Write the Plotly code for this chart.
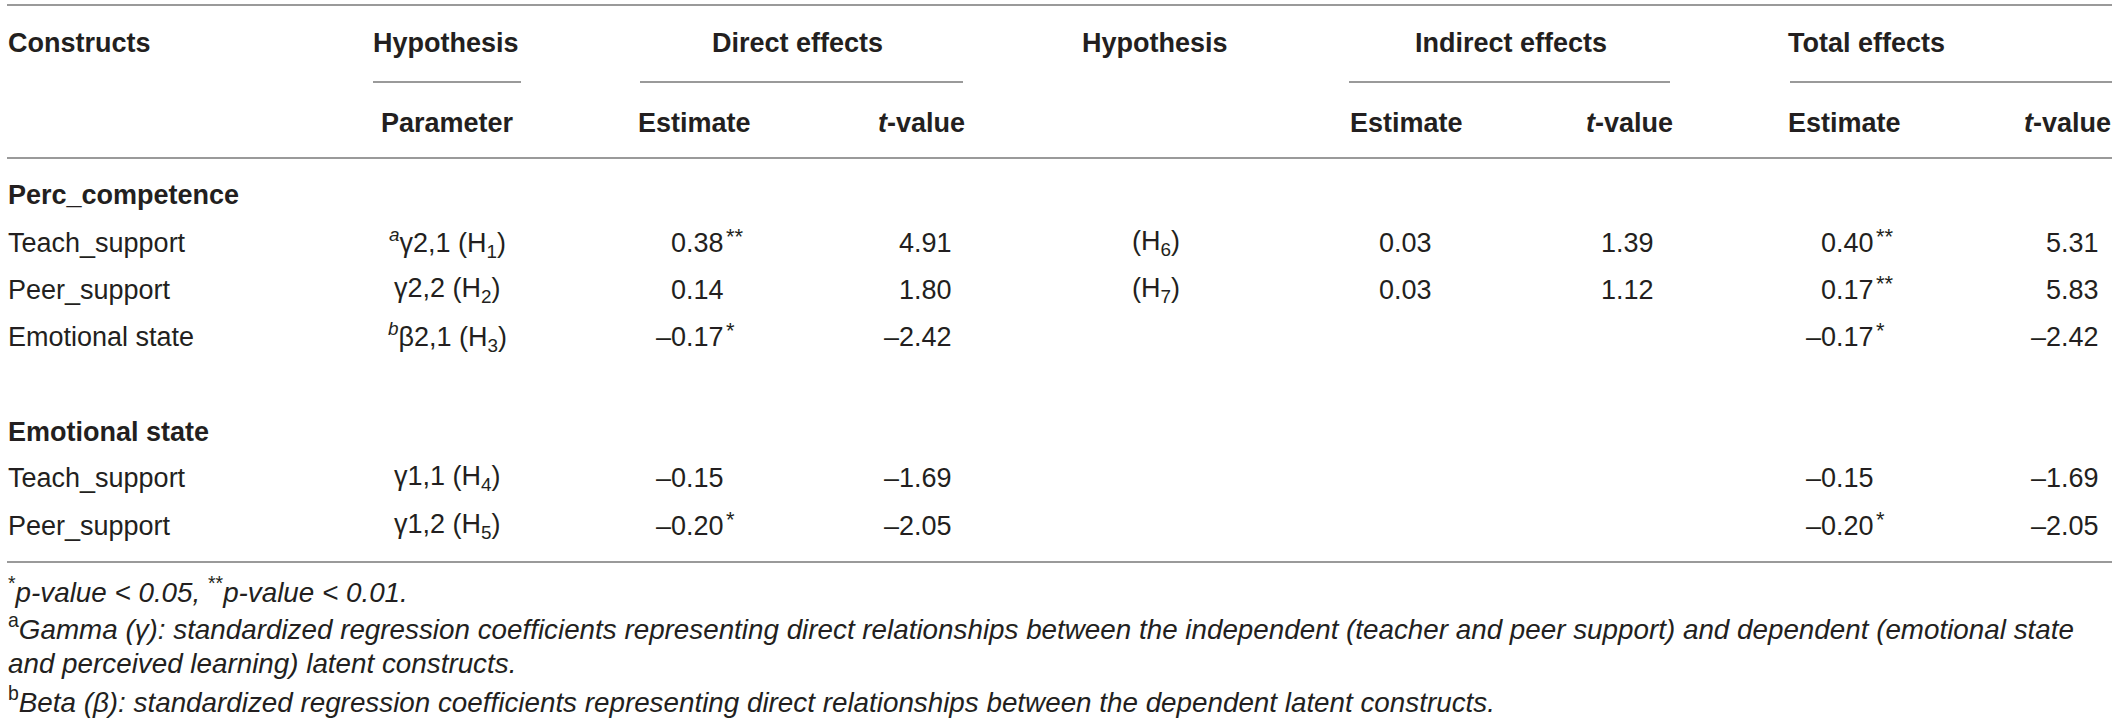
import plotly.graph_objects as go

# ---- table data ----
sections = ["Perc_competence", "Emotional state"]

constructs = ["Teach_support", "Peer_support", "Emotional state", "Teach_support", "Peer_support"]
parameters = ["<sup><i>a</i></sup>γ2,1 (H<sub>1</sub>)", "γ2,2 (H<sub>2</sub>)",
              "<sup><i>b</i></sup>β2,1 (H<sub>3</sub>)", "γ1,1 (H<sub>4</sub>)", "γ1,2 (H<sub>5</sub>)"]
direct_est = [0.38, 0.14, -0.17, -0.15, -0.20]
direct_sig = ["**", "", "*", "", "*"]
direct_t = [4.91, 1.80, -2.42, -1.69, -2.05]
indirect_hyp = ["(H<sub>6</sub>)", "(H<sub>7</sub>)", None, None, None]
indirect_est = [0.03, 0.03, None, None, None]
indirect_t = [1.39, 1.12, None, None, None]
total_est = [0.40, 0.17, -0.17, -0.15, -0.20]
total_sig = ["**", "**", "*", "", "*"]
total_t = [5.31, 5.83, -2.42, -1.69, -2.05]

footnotes = [
    "<sup>*</sup><i>p-value &lt; 0.05, </i><sup>**</sup><i>p-value &lt; 0.01.</i>",
    "<sup>a</sup><i>Gamma (γ): standardized regression coefficients representing direct relationships between the independent (teacher and peer support) and dependent (emotional state</i>",
    "<i>and perceived learning) latent constructs.</i>",
    "<sup>b</sup><i>Beta (β): standardized regression coefficients representing direct relationships between the dependent latent constructs.</i>",
]

# ---- layout (pixel positions) ----
W, H = 2121, 721
TXT = "#231f20"
LINE = "#9a9a9a"
FONT = "Liberation Sans, Arial, sans-serif"
FS = 27
FS_FOOT = 27.8

left_x = 7
right_x = 2112
param_x = 447
num_right = {"dir_est": 725, "dir_t": 953, "ind_est": 1433, "ind_t": 1655,
             "tot_est": 1875, "tot_t": 2100}
hyp2_x = 1156

head1_y, under_y, head2_y = 43, 82, 123
section_y = [195, 432]
row_y = [243, 290, 337, 478, 526]
rule_y = [5, 158, 562]
foot_y = [590, 627, 663, 700]


def fmt(v):
    s = f"{abs(v):.2f}"
    return ("\u2013" + s) if v < 0 else s


ann = []


def add(text, x, y, xa="left", bold=False, size=FS):
    if bold:
        text = f"<b>{text}</b>"
    ann.append(dict(text=text, x=x, y=y, xref="x", yref="y", xanchor=xa, yanchor="middle",
                    showarrow=False, borderpad=0,
                    font=dict(family=FONT, size=size, color=TXT)))


def add_stars(stars, x, y):
    if stars:
        ann.append(dict(text=stars, x=x, y=y, xref="x", yref="y", xanchor="left",
                        yanchor="middle", showarrow=False, borderpad=0, yshift=7,
                        font=dict(family=FONT, size=22, color=TXT)))


# headers
add("Constructs", left_x, head1_y, bold=True)
add("Hypothesis", 446, head1_y, "center", True)
add("Direct effects", 797, head1_y, "center", True)
add("Hypothesis", 1155, head1_y, "center", True)
add("Indirect effects", 1511, head1_y, "center", True)
add("Total effects", 1787, head1_y, bold=True)
add("Parameter", 447, head2_y, "center", True)
add("Estimate", 694, head2_y, "center", True)
add("<i>t</i>-value", 966, head2_y, "right", True)
add("Estimate", 1406, head2_y, "center", True)
add("<i>t</i>-value", 1674, head2_y, "right", True)
add("Estimate", 1787, head2_y, bold=True)
add("<i>t</i>-value", 2112, head2_y, "right", True)

# sections and rows
for name, sy in zip(sections, section_y):
    add(name, left_x, sy, bold=True)

for i, y in enumerate(row_y):
    add(constructs[i], left_x, y)
    add(parameters[i], param_x, y, "center")
    add(fmt(direct_est[i]), num_right["dir_est"], y, "right")
    add_stars(direct_sig[i], num_right["dir_est"], y)
    add(fmt(direct_t[i]), num_right["dir_t"], y, "right")
    if indirect_hyp[i]:
        add(indirect_hyp[i], hyp2_x, y, "center")
    if indirect_est[i] is not None:
        add(fmt(indirect_est[i]), num_right["ind_est"], y, "right")
    if indirect_t[i] is not None:
        add(fmt(indirect_t[i]), num_right["ind_t"], y, "right")
    add(fmt(total_est[i]), num_right["tot_est"], y, "right")
    add_stars(total_sig[i], num_right["tot_est"], y)
    add(fmt(total_t[i]), num_right["tot_t"], y, "right")

for t, y in zip(footnotes, foot_y):
    add(t, left_x, y, size=FS_FOOT)

shapes = []
for y in rule_y:
    shapes.append(dict(type="line", x0=left_x, x1=right_x, y0=y, y1=y, xref="x", yref="y",
                       line=dict(color=LINE, width=2)))
for x0, x1 in [(373, 521), (640, 963), (1349, 1670), (1790, 2112)]:
    shapes.append(dict(type="line", x0=x0, x1=x1, y0=under_y, y1=under_y, xref="x", yref="y",
                       line=dict(color=LINE, width=2)))

fig = go.Figure()
fig.update_layout(
    width=W, height=H, margin=dict(l=0, r=0, t=0, b=0),
    paper_bgcolor="white", plot_bgcolor="white",
    xaxis=dict(range=[0, W], visible=False, fixedrange=True),
    yaxis=dict(range=[H, 0], visible=False, fixedrange=True),
    annotations=ann, shapes=shapes, showlegend=False,
)

fig.write_html("out.html", config={"displayModeBar": False},
               post_script="document.body.style.margin='0';")
